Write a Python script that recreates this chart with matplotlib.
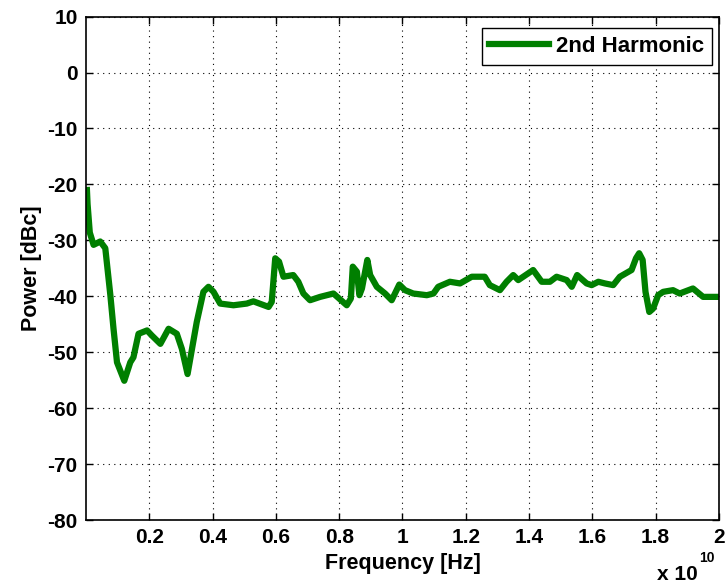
import matplotlib
matplotlib.use('Agg')
import matplotlib.pyplot as plt
import numpy as np

plt.rcParams['font.family'] = ['Liberation Sans', 'DejaVu Sans']
plt.rcParams['font.weight'] = 'bold'
plt.rcParams['axes.unicode_minus'] = False

# frequency in units of 1e10 Hz, power in dBc
freq = [0.003, 0.005, 0.012, 0.024, 0.045, 0.061, 0.077, 0.087, 0.098, 0.121,
        0.14, 0.15, 0.166, 0.193, 0.208, 0.235, 0.261, 0.287, 0.303, 0.321,
        0.335, 0.35, 0.371, 0.387, 0.403, 0.424, 0.466, 0.508, 0.529, 0.577,
        0.587, 0.598, 0.61, 0.624, 0.655, 0.671, 0.687, 0.708, 0.74, 0.782,
        0.824, 0.837, 0.843, 0.856, 0.864, 0.872, 0.889, 0.898, 0.919, 0.945,
        0.966, 0.99, 1.008, 1.034, 1.077, 1.098, 1.113, 1.15, 1.182, 1.219,
        1.245, 1.26, 1.276, 1.308, 1.329, 1.35, 1.366, 1.413, 1.44, 1.466,
        1.487, 1.519, 1.535, 1.552, 1.582, 1.598, 1.619, 1.64, 1.666, 1.687,
        1.724, 1.738, 1.748, 1.759, 1.768, 1.78, 1.792, 1.808, 1.824, 1.855,
        1.876, 1.918, 1.95, 1.982, 1.998]
power = [-21.0, -23.5, -28.6, -30.8, -30.2, -31.4, -39.8, -45.8, -51.8, -55.1,
         -51.8, -50.9, -46.7, -46.1, -47.0, -48.5, -45.8, -46.7, -49.4, -53.9,
         -49.4, -44.6, -39.2, -38.3, -39.2, -41.3, -41.6, -41.3, -40.9, -41.9,
         -41.0, -33.2, -33.8, -36.5, -36.2, -37.4, -39.5, -40.7, -40.1, -39.5,
         -41.6, -40.4, -34.7, -35.6, -39.8, -38.6, -33.5, -36.2, -38.3, -39.5,
         -40.7, -37.9, -38.9, -39.5, -39.8, -39.5, -38.3, -37.4, -37.7, -36.5,
         -36.5, -36.5, -38.0, -38.9, -37.4, -36.2, -37.1, -35.3, -37.4, -37.4,
         -36.5, -37.1, -38.3, -36.2, -37.7, -38.0, -37.4, -37.7, -38.0, -36.5,
         -35.3, -33.2, -32.3, -33.5, -39.2, -42.8, -42.2, -39.8, -39.2, -38.9,
         -39.5, -38.6, -40.1, -40.1, -40.1]
xticks = [0.2, 0.4, 0.6, 0.8, 1.0, 1.2, 1.4, 1.6, 1.8, 2.0]
xticklabels = ['0.2', '0.4', '0.6', '0.8', '1', '1.2', '1.4', '1.6', '1.8', '2']
yticks = list(range(10, -90, -10))

fig = plt.figure(figsize=(7.25, 5.85), dpi=100)
ax = fig.add_axes([0.1186, 0.111, 0.873, 0.8606])

ax.plot(freq, power, color='#007f00', lw=4.5, label='2nd Harmonic',
        solid_joinstyle='round')

ax.set_xlim(0, 2)
ax.set_ylim(-80, 10)
ax.set_xticks(xticks)
ax.set_xticklabels(xticklabels)
ax.set_yticks(yticks)
ax.tick_params(direction='in', top=True, right=True, labelsize=15,
               length=5, width=1, pad=6)
for lab in ax.get_xticklabels() + ax.get_yticklabels():
    lab.set_fontweight('bold')
ax.grid(True, color='black', linestyle=(0, (1, 4)), linewidth=0.8)
for s in ax.spines.values():
    s.set_linewidth(1.2)

ax.set_xlabel('Frequency [Hz]', fontsize=15.5, fontweight='bold', labelpad=4)
ax.set_ylabel('Power [dBc]', fontsize=15.5, fontweight='bold', labelpad=4)

# MATLAB-style exponent under the right end of the x axis
fig.text(657 / 725, 5 / 585, 'x 10', fontsize=15, fontweight='bold',
         va='baseline')
fig.text(699 / 725, 23 / 585, '10', fontsize=10, fontweight='bold',
         va='baseline')

leg = ax.legend(loc='upper right', bbox_to_anchor=(712 / 725, 1 - 28 / 585),
                bbox_transform=fig.transFigure, borderaxespad=0,
                fontsize=16, fancybox=False, framealpha=1, edgecolor='black',
                handlelength=2.7, handletextpad=0.3, borderpad=0.35)
leg.get_frame().set_linewidth(1.0)
for t in leg.get_texts():
    t.set_fontweight('bold')

fig.savefig('out.png', dpi=100)
